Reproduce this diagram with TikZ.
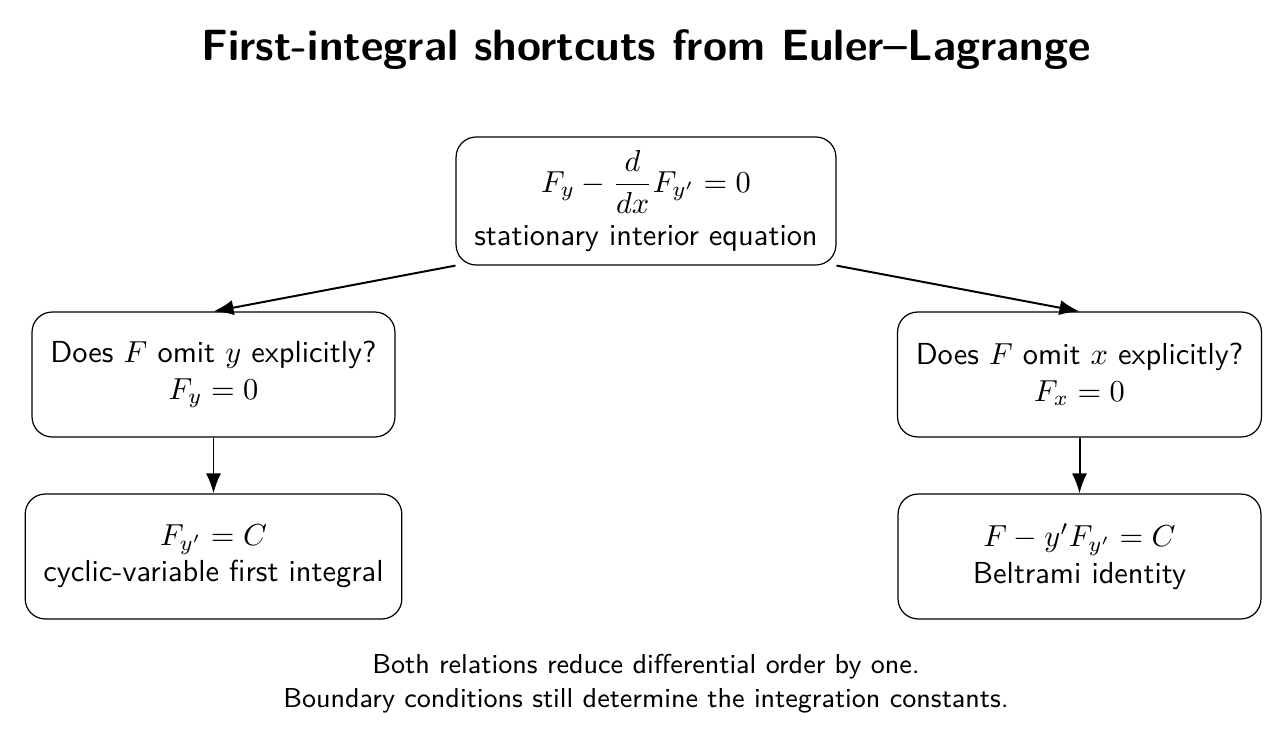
\documentclass[tikz,border=0pt]{standalone}
\usepackage{amsmath}
\usetikzlibrary{arrows.meta}

\tikzset{
	stepbox/.style={draw, rounded corners=6.6pt, align=center, font=\sffamily,
		minimum width=119.4pt, minimum height=41.1pt, inner xsep=6pt},
	flow/.style={-{Latex[length=6.6pt,width=5pt]}, line width=0.65pt}
}

\begin{document}
\begin{tikzpicture}[x=0.329pt,y=-0.329pt]
				\useasboundingbox(0,0)rectangle(1287,750);
				\node(title)at(646,50){\sffamily\bfseries\Large First-integral shortcuts from Euler--Lagrange};
				\node[stepbox,minimum height=42.1pt](el)at(646,201){$\displaystyle F_y-\frac{d}{dx}F_{y'}=0$\\[3pt]stationary interior equation};
				\node[stepbox](omity)at(213.5,374.5){Does $F$ omit $y$ explicitly?\\$F_y=0$};
				\node[stepbox](omitx)at(1079.5,374.5){Does $F$ omit $x$ explicitly?\\$F_x=0$};
				\node[stepbox](cyclic)at(213.5,556.5){$F_{y'}=C$\\cyclic-variable first integral};
				\node[stepbox](beltrami)at(1079.5,556.5){$F-y'F_{y'}=C$\\Beltrami identity};
				\node[align=center,font=\sffamily\small](note)at(646,683.5){Both relations reduce differential order by one.\\Boundary conditions still determine the integration constants.};
				\draw[flow](el.south west)--(omity.north);
				\draw[flow](el.south east)--(omitx.north);
				\draw[flow](omity)--(cyclic);
				\draw[flow](omitx)--(beltrami);
			\end{tikzpicture}
\end{document}
